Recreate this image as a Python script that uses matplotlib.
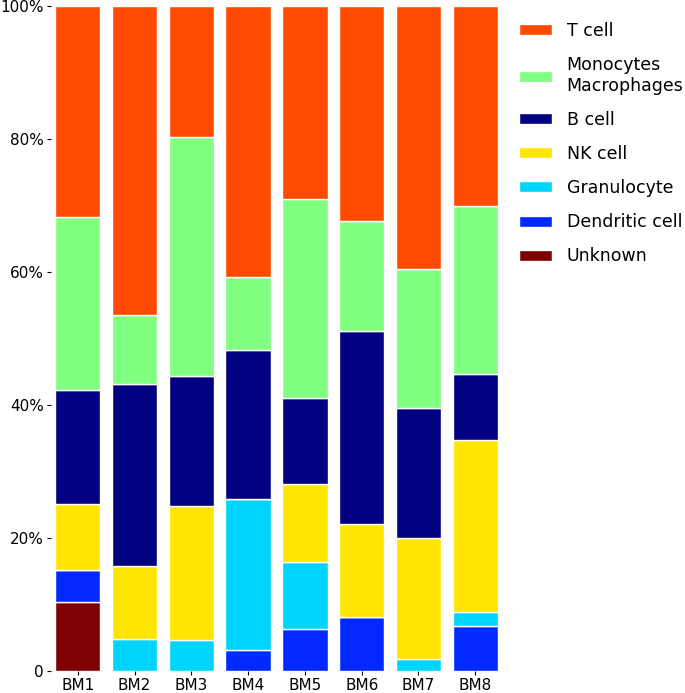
import matplotlib
matplotlib.use("Agg")
import matplotlib.pyplot as plt
import numpy as np

# samples
samples = ["BM1", "BM2", "BM3", "BM4", "BM5", "BM6", "BM7", "BM8"]

# fractions in % (bottom to top of stack)
unknown     = [10.4, 0.0, 0.0, 0.0, 0.0, 0.0, 0.0, 0.0]
dendritic   = [4.8, 0.0, 0.0, 3.2, 6.3, 8.1, 0.0, 6.8]
granulocyte = [0.0, 4.8, 4.7, 22.6, 10.1, 0.0, 1.8, 2.1]
nk_cell     = [9.9, 11.0, 20.1, 0.0, 11.7, 14.0, 18.2, 25.8]
b_cell      = [17.2, 27.4, 19.6, 22.5, 13.0, 29.0, 19.6, 9.9]
monocytes   = [26.0, 10.3, 35.9, 11.0, 29.9, 16.5, 20.9, 25.4]
t_cell      = [31.7, 46.5, 19.7, 40.7, 29.0, 32.4, 39.5, 30.0]

series = [
    ("Unknown", unknown, "#7f0000"),
    ("Dendritic cell", dendritic, "#0028ff"),
    ("Granulocyte", granulocyte, "#00d5ff"),
    ("NK cell", nk_cell, "#ffe500"),
    ("B cell", b_cell, "#000080"),
    ("Monocytes\nMacrophages", monocytes, "#80ff80"),
    ("T cell", t_cell, "#ff4a00"),
]

fig = plt.figure(figsize=(6.85, 6.93), dpi=100)
ax = fig.add_axes([0.0745, 0.0317, 0.6525, 0.9596])

x = np.arange(len(samples))
bottom = np.zeros(len(samples))
handles = []
for name, vals, col in series:
    vals = np.array(vals)
    b = ax.bar(x, vals, 0.8, bottom=bottom, color=col, edgecolor="white",
               linewidth=1.0, label=name)
    handles.append(b)
    bottom += vals

ax.set_xlim(-0.47, 7.4)
ax.set_ylim(0, 100)
ax.set_xticks(x)
ax.set_xticklabels(samples, fontsize=11)
ax.set_yticks([0, 20, 40, 60, 80, 100])
ax.set_yticklabels(["0", "20%", "40%", "60%", "80%", "100%"], fontsize=11)
for s in ax.spines.values():
    s.set_visible(False)
ax.tick_params(length=3, width=0.8, pad=2)

ax.legend(handles[::-1], [s[0] for s in series][::-1], loc="upper left",
          bbox_to_anchor=(1.012, 1.0), frameon=False, fontsize=12.5,
          labelspacing=0.93, handlelength=1.9, handleheight=0.6,
          handletextpad=0.85)

fig.savefig("out.png", dpi=100)
